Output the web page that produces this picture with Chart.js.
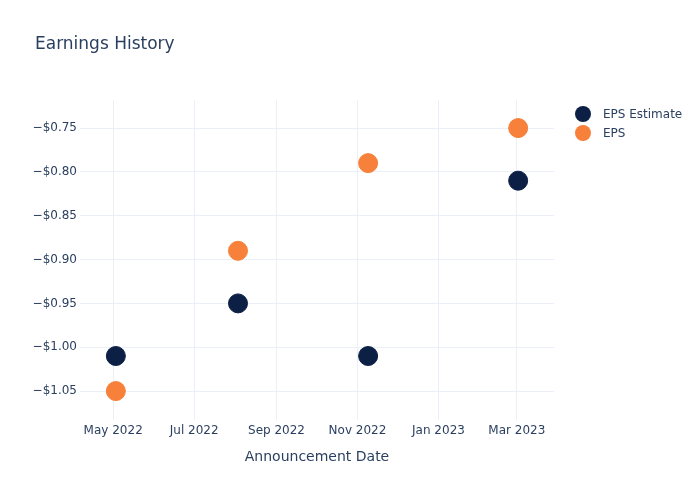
<!DOCTYPE html>
<html lang="en">
<head>
  <meta charset="UTF-8" />
  <title>Earnings History</title>
  <script src="https://cdn.jsdelivr.net/npm/chart.js"></script>
  <style>
    body { margin: 0; background: #fff; }
    #wrap { width: 700px; height: 500px; }
  </style>
</head>
<body>
  <div id="wrap"><canvas id="myChart" width="700" height="500"></canvas></div>
  <script>
    // data
    const announceDates = ['2022-05-03', '2022-08-03', '2022-11-09', '2023-03-02'];
    const epsEstimate = [-1.01, -0.95, -1.01, -0.81];
    const epsActual = [-1.05, -0.89, -0.79, -0.75];
    const xTickDates = ['2022-05-01', '2022-07-01', '2022-09-01', '2022-11-01', '2023-01-01', '2023-03-01'];
    const yTicks = [-1.05, -1.00, -0.95, -0.90, -0.85, -0.80, -0.75];
    const xRange = ['2022-04-06', '2023-03-29'];
    const yRange = [-1.083, -0.718];

    const months = ['Jan', 'Feb', 'Mar', 'Apr', 'May', 'Jun', 'Jul', 'Aug', 'Sep', 'Oct', 'Nov', 'Dec'];
    const ts = s => Date.parse(s);
    const fmtDate = v => { const d = new Date(v); return months[d.getUTCMonth()] + ' ' + d.getUTCFullYear(); };
    const fmtMoney = v => (v < 0 ? '\u2212' : '') + '$' + Math.abs(v).toFixed(2);

    const FONT = '"DejaVu Sans", "Open Sans", Arial, sans-serif';
    const TXT = '#2a3f5f';
    const GRID = '#ebf0f8';

    const colEst = '#0c1f44';
    const colEps = '#f7803a';

    const extras = {
      id: 'extras',
      afterDraw(chart) {
        const ctx = chart.ctx;
        ctx.save();
        ctx.fillStyle = TXT;
        ctx.font = '17px ' + FONT;
        ctx.textBaseline = 'middle';
        ctx.textAlign = 'left';
        ctx.fillText('Earnings History', 35, 45);
        // legend
        chart.data.datasets.forEach((ds, i) => {
          const y = 115 + i * 19;
          ctx.beginPath();
          ctx.arc(583, y - 1, 8, 0, Math.PI * 2);
          ctx.fillStyle = ds.backgroundColor;
          ctx.fill();
          ctx.fillStyle = TXT;
          ctx.font = '12px ' + FONT;
          ctx.fillText(ds.label, 603, y);
        });
        ctx.restore();
      }
    };

    new Chart(document.getElementById('myChart'), {
      type: 'scatter',
      data: {
        datasets: [
          {
            label: 'EPS Estimate',
            data: announceDates.map((d, i) => ({ x: ts(d), y: epsEstimate[i] })),
            backgroundColor: colEst,
            borderColor: colEst,
            pointRadius: 9.5,
            pointHoverRadius: 9.5
          },
          {
            label: 'EPS',
            data: announceDates.map((d, i) => ({ x: ts(d), y: epsActual[i] })),
            backgroundColor: colEps,
            borderColor: colEps,
            pointRadius: 9.5,
            pointHoverRadius: 9.5
          }
        ]
      },
      options: {
        responsive: false,
        animation: false,
        layout: { padding: { top: 100, right: 146, left: 0, bottom: 0 } },
        plugins: { legend: { display: false }, tooltip: { enabled: false } },
        scales: {
          x: {
            type: 'linear',
            min: ts(xRange[0]),
            max: ts(xRange[1]),
            afterBuildTicks: s => { s.ticks = xTickDates.map(d => ({ value: ts(d) })); },
            afterFit: s => { s.height = 80; },
            grid: { color: GRID, drawTicks: false },
            border: { display: false },
            ticks: { color: TXT, font: { family: FONT, size: 12 }, padding: 4, maxRotation: 0, callback: v => fmtDate(v) },
            title: { display: true, text: 'Announcement Date', color: TXT, font: { family: FONT, size: 14 }, padding: { top: 0, bottom: 34 } }
          },
          y: {
            min: yRange[0],
            max: yRange[1],
            afterBuildTicks: s => { s.ticks = yTicks.map(v => ({ value: v })); },
            afterFit: s => { s.width = 80; },
            grid: { color: GRID, drawTicks: false },
            border: { display: false },
            ticks: { color: TXT, font: { family: FONT, size: 12 }, padding: 3, callback: v => fmtMoney(v) }
          }
        }
      },
      plugins: [extras]
    });
  </script>
</body>
</html>
